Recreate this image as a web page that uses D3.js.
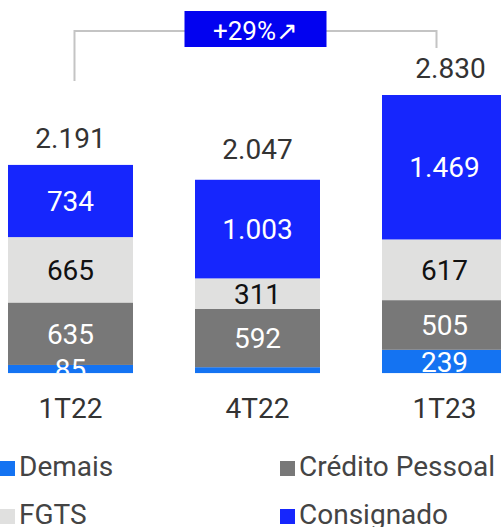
<!DOCTYPE html>
<html>
<head>
<meta charset="utf-8">
<script src="https://cdn.jsdelivr.net/npm/d3@7"></script>
<style>
  body { margin: 0; background: #fff; }
  svg { display: block; font-family: Roboto, "Noto Sans", sans-serif; }
</style>
</head>
<body>
<div id="chart"></div>
<script>
// data
const categories = ["1T22", "4T22", "1T23"];
const seriesNames = ["Demais", "Crédito Pessoal", "FGTS", "Consignado"];
const demais = [85, 62, 239];
const creditoPessoal = [635, 592, 505];
const fgts = [665, 311, 617];
const consignado = [734, 1003, 1469];
const totalLabels = ["2.191", "2.047", "2.830"];
const growthLabel = "+29%\u2197";

const colors = {
  "Demais": "#1473f2",
  "Crédito Pessoal": "#787878",
  "FGTS": "#e0e0df",
  "Consignado": "#1626fd"
};
const labelColors = {
  "Demais": "#fff",
  "Crédito Pessoal": "#fff",
  "FGTS": "#111",
  "Consignado": "#fff"
};

const width = 501, height = 527;
const baseY = 373.3;

const rows = categories.map((c, i) => ({
  cat: c,
  "Demais": demais[i],
  "Crédito Pessoal": creditoPessoal[i],
  "FGTS": fgts[i],
  "Consignado": consignado[i]
}));

const stack = d3.stack().keys(seriesNames);
const layers = stack(rows);
const maxTotal = d3.max(layers[layers.length - 1], d => d[1]);

const x = d3.scaleBand()
  .domain(categories)
  .range([8, 507])
  .paddingInner(0.3316)
  .paddingOuter(0);

const y = d3.scaleLinear()
  .domain([0, maxTotal])
  .range([baseY, 95]);

const svg = d3.select("#chart").append("svg")
  .attr("width", width)
  .attr("height", height);

svg.append("clipPath").attr("id", "plot-clip")
  .append("rect")
  .attr("x", 0).attr("y", 0)
  .attr("width", width).attr("height", baseY);

const plot = svg.append("g").attr("clip-path", "url(#plot-clip)");

// bars
plot.selectAll("g.layer")
  .data(layers)
  .enter().append("g")
  .attr("class", "layer")
  .attr("fill", d => colors[d.key])
  .selectAll("rect")
  .data(d => d)
  .enter().append("rect")
  .attr("x", d => x(d.data.cat))
  .attr("y", d => y(d[1]))
  .attr("width", x.bandwidth())
  .attr("height", d => y(d[0]) - y(d[1]));

// segment labels
layers.forEach(layer => {
  plot.append("g")
    .selectAll("text")
    .data(layer.filter(d => y(d[0]) - y(d[1]) > 7))
    .enter().append("text")
    .attr("x", d => x(d.data.cat) + x.bandwidth() / 2)
    .attr("y", d => (y(d[0]) + y(d[1])) / 2)
    .attr("dy", "0.36em")
    .attr("text-anchor", "middle")
    .style("font-size", "28px")
    .style("fill", labelColors[layer.key])
    .text(d => d3.format(",")(d.data[layer.key]).replace(",", "."));
});

// totals
svg.append("g")
  .selectAll("text")
  .data(layers[layers.length - 1])
  .enter().append("text")
  .attr("x", (d, i) => x(d.data.cat) + x.bandwidth() / 2 + (i === 2 ? 6 : 0))
  .attr("y", (d, i) => y(d[1]) - (i === 1 ? 21 : 17))
  .attr("text-anchor", "middle")
  .style("font-size", "28px")
  .style("fill", "#333")
  .text((d, i) => totalLabels[i]);

// category axis
const xAxis = svg.append("g")
  .attr("transform", `translate(0,${baseY})`)
  .call(d3.axisBottom(x).tickSize(0).tickPadding(0));
xAxis.select(".domain").remove();
xAxis.selectAll("text")
  .attr("dy", "1.6em")
  .style("font-family", "Roboto, sans-serif")
  .style("font-size", "28px")
  .style("fill", "#333");

// growth bracket
const x1 = x(categories[0]) + x.bandwidth() / 2 + 4;
const x3 = x(categories[2]) + x.bandwidth() / 2 - 8;
svg.append("path")
  .attr("d", `M${x1},81V31H${x3}V48`)
  .attr("fill", "none")
  .attr("stroke", "#c4c4c4")
  .attr("stroke-width", 2);

const boxW = 142, boxH = 36;
const boxX = (x1 + x3) / 2 - boxW / 2;
svg.append("rect")
  .attr("x", boxX).attr("y", 11)
  .attr("width", boxW).attr("height", boxH)
  .attr("fill", "#0202f0");
svg.append("text")
  .attr("x", boxX + boxW / 2)
  .attr("y", 39.5)
  .attr("text-anchor", "middle")
  .style("font-size", "26px")
  .style("fill", "#fff")
  .text(growthLabel);

// legend
const legendItems = [
  { name: "Demais", col: 0, row: 0 },
  { name: "Crédito Pessoal", col: 1, row: 0 },
  { name: "FGTS", col: 0, row: 1 },
  { name: "Consignado", col: 1, row: 1 }
];
const legend = svg.append("g")
  .selectAll("g")
  .data(legendItems)
  .enter().append("g")
  .attr("transform", d => `translate(${d.col * 280},${461 + d.row * 48})`);
legend.append("rect")
  .attr("width", 15).attr("height", 15)
  .attr("fill", d => colors[d.name]);
legend.append("text")
  .attr("x", 19)
  .attr("y", 15)
  .style("font-size", "28px")
  .style("fill", "#444")
  .text(d => d.name);
</script>
</body>
</html>
